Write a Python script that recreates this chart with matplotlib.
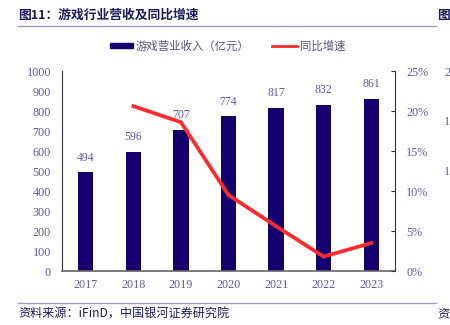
import matplotlib
matplotlib.use("Agg")
import matplotlib.pyplot as plt
from matplotlib.patches import Rectangle
from matplotlib.lines import Line2D

years = ["2017", "2018", "2019", "2020", "2021", "2022", "2023"]
revenue = [494, 596, 707, 774, 817, 832, 861]
growth_years = ["2018", "2019", "2020", "2021", "2022", "2023"]
growth = [20.6, 18.6, 9.5, 5.6, 1.8, 3.5]
left_ticks = [0, 100, 200, 300, 400, 500, 600, 700, 800, 900, 1000]
right_ticks = [0, 5, 10, 15, 20, 25]

CJK = ["Noto Sans CJK SC", "DejaVu Sans"]
SERIF = ["Liberation Serif", "DejaVu Serif"]
BAR = "#14006E"
TXT = "#5A5AA8"
RED = "#FF2A2A"

fig = plt.figure(figsize=(4.5, 3.25), dpi=100)
ax = fig.add_axes([62/450, 1-271/325, (395-62)/450, 200/325])
x = list(range(len(years)))
ax.bar(x, revenue, width=0.32, color=BAR, zorder=2)
for xi, v in zip(x, revenue):
    ax.annotate(str(v), (xi, v), xytext=(0, 6), textcoords="offset points",
                ha="center", va="bottom", fontsize=8.5, color=TXT, family=SERIF)
ax.set_xlim(-0.5, len(years) - 0.5)
ax.set_ylim(0, 1000)
ax.set_yticks(left_ticks)
ax.set_xticks(x)
ax.set_xticklabels(years)
for lab in ax.get_xticklabels() + ax.get_yticklabels():
    lab.set_family(SERIF)
    lab.set_fontsize(8.7)
    lab.set_color(TXT)
ax.tick_params(axis="x", length=0, pad=6)
ax.tick_params(axis="y", length=0, pad=8)
ax.spines["top"].set_visible(False)
ax.spines["right"].set_visible(False)
ax.spines["left"].set_color("#333333")
ax.spines["bottom"].set_color("#666666")
ax.spines["bottom"].set_linewidth(1.2)

ax2 = ax.twinx()
gx = [years.index(y) for y in growth_years]
ax2.plot(gx, growth, color=RED, lw=2.7, zorder=3)
ax2.set_ylim(0, 25)
ax2.set_yticks(right_ticks)
ax2.set_yticklabels([f"{t}%" for t in right_ticks])
for lab in ax2.get_yticklabels():
    lab.set_family(SERIF)
    lab.set_fontsize(8.7)
    lab.set_color(TXT)
ax2.tick_params(axis="y", direction="in", length=3, pad=8, color="#333333")
for s in ["top", "left", "bottom"]:
    ax2.spines[s].set_visible(False)
ax2.spines["right"].set_color("#333333")

# header
fig.text(18/450, 1-15/325, "图11：游戏行业营收及同比增速", fontsize=9.2, fontweight="bold",
         family=CJK, color="#1A1A60", va="center", ha="left")
fig.text(437/450, 1-15/325, "图", fontsize=9.2, fontweight="bold",
         family=CJK, color="#1A1A60", va="center", ha="left")
fig.add_artist(Line2D([18/450, 436/450], [1-26/325, 1-26/325], color="#9A9AC8", lw=1))

# legend
fig.add_artist(Rectangle((110/450, 1-48/325), 23/450, 5/325, color=BAR))
fig.text(136/450, 1-46/325, "游戏营业收入（亿元）", fontsize=8.2, family=CJK, color="#555577",
         va="center", ha="left")
fig.add_artist(Line2D([272/450, 297/450], [1-46/325, 1-46/325], color=RED, lw=2))
fig.text(300/450, 1-46/325, "同比增速", fontsize=8.2, family=CJK, color="#555577",
         va="center", ha="left")

# neighbour chart fragments on right edge (only the visible leading digit)
for yy, t in [(73, "2"), (122, "1"), (172, "1")]:
    fig.text(444/450, 1-yy/325, t, fontsize=8.7, family=SERIF, color=TXT, va="center", ha="left")

# footer
fig.add_artist(Line2D([18/450, 436/450], [1-303/325, 1-303/325], color="#9A9AC8", lw=1))
fig.text(18/450, 1-314/325, "资料来源：iFinD，中国银河证券研究院", fontsize=8.7, family=CJK,
         style="italic", color="#1A1A60", va="center", ha="left")
fig.text(437/450, 1-314/325, "资", fontsize=8.7, family=CJK,
         color="#1A1A60", va="center", ha="left")

fig.savefig("out.png", dpi=100)
